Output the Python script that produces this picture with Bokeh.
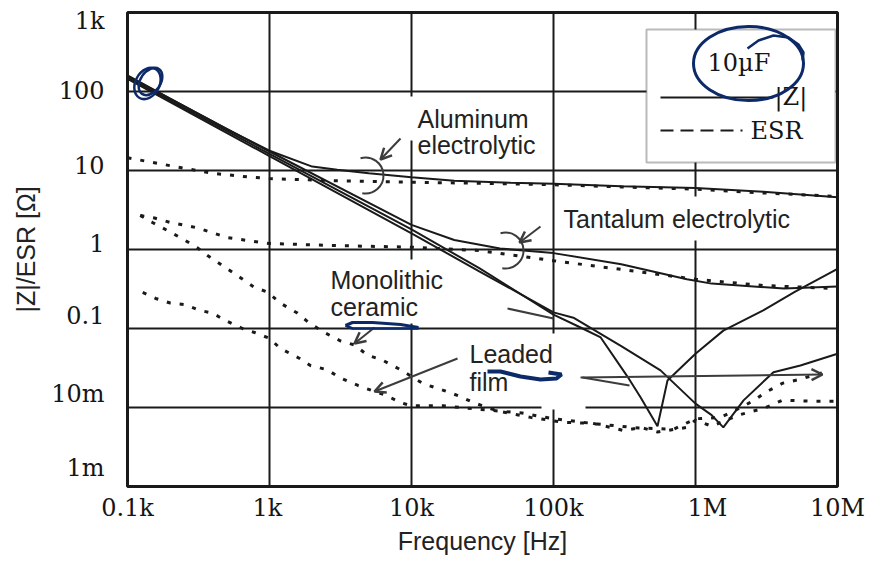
from bokeh.plotting import figure
from bokeh.models import (FixedTicker, Label, Arrow, OpenHead, BoxAnnotation,
                          CustomJSTickFormatter)
from bokeh.embed import file_html
from bokeh.resources import INLINE

# ---------------- data (10 uF capacitors) ----------------
AL_Z_F = [100, 200, 500, 1e3, 2e3, 3e3, 5e3, 1e4, 2e4, 5e4, 1e5, 3e5, 1e6, 3e6, 1e7]
AL_Z = [160, 81, 33.5, 17.8, 11.2, 10.2, 9.2, 8.2, 7.4, 7.0, 6.8, 6.3, 6.0, 5.4, 4.6]
AL_ESR_F = [100, 200, 400, 700, 1e3, 3e3, 1e4, 3e4, 1e5, 3e5, 1e6, 3e6, 1e7]
AL_ESR = [14.5, 11.5, 9.2, 8.3, 7.9, 7.4, 7.1, 6.9, 6.6, 6.2, 5.8, 5.2, 4.7]

TA_Z_F = [100, 1e3, 1e4, 2e4, 4.2e4, 1e5, 3e5, 8.7e5, 1.3e6, 4.2e6, 1e7]
TA_Z = [157, 17.4, 2.05, 1.32, 1.03, 0.9, 0.65, 0.42, 0.37, 0.32, 0.34]
TA_ESR_F = [123, 155, 200, 265, 320, 410, 500, 700, 1e3, 3e3, 1e4, 3e4, 1e5,
            3e5, 1e6, 3e6, 1e7]
TA_ESR = [2.7, 2.5, 2.2, 2.0, 1.85, 1.6, 1.42, 1.3, 1.19, 1.12, 1.07, 0.97, 0.72,
          0.56, 0.42, 0.35, 0.32]

CE_Z_F = [100, 1e3, 1e4, 3e4, 1e5, 1.55e5, 2.15e5, 3.3e5, 4.1e5, 5.4e5, 6.35e5,
          1e6, 1.57e6, 3e6, 5e6, 1e7]
CE_Z = [150, 16.2, 1.8, 0.58, 0.15, 0.103, 0.077, 0.025, 0.0135, 0.0058, 0.022,
        0.048, 0.094, 0.17, 0.29, 0.57]
CE_ESR_F = [123, 150, 191, 256, 311, 366, 482, 624, 784, 968, 1.19e3, 1.57e3,
            1.91e3, 2.44e3, 3.14e3, 3.96e3, 4.9e3, 6.2e3, 8.4e3, 1.21e4, 1.68e4,
            2.2e4, 2.74e4, 4e4, 6.9e4, 1.17e5, 1.9e5, 3.13e5, 4.1e5, 5.4e5,
            8.7e5, 1e6, 1.3e6, 2e6, 3.1e6, 4.1e6, 6.7e6, 1e7]
CE_ESR = [2.7, 2.2, 1.74, 1.3, 1.05, 0.84, 0.6, 0.44, 0.33, 0.29, 0.21, 0.157,
          0.117, 0.089, 0.07, 0.062, 0.046, 0.04, 0.03, 0.02, 0.0165,
          0.0138, 0.0115, 0.0091, 0.0075, 0.0065, 0.0063, 0.0051, 0.0056, 0.0049,
          0.0056, 0.0069, 0.0058, 0.008, 0.0099, 0.0124, 0.012, 0.012]

FI_Z_F = [100, 1e3, 1e4, 3e4, 1e5, 1.38e5, 3e5, 5.67e5, 1e6, 1.3e6, 1.57e6,
          2.18e6, 3.54e6, 5.48e6, 1e7]
FI_Z = [145, 15.2, 1.6, 0.53, 0.16, 0.137, 0.06, 0.0295, 0.0112, 0.008, 0.0056,
        0.0123, 0.028, 0.034, 0.048]
FI_ESR_F = [128, 158, 200, 256, 320, 397, 482, 645, 784, 1e3, 1.19e3, 1.62e3,
            1.94e3, 2.56e3, 3.1e3, 4.2e3, 5.2e3, 6.6e3, 8.4e3, 1e4, 1.66e4, 3e4,
            6e4, 1e5, 2e5, 4e5, 7e5, 1e6, 1.5e6, 2.2e6, 2.7e6, 3.1e6, 4.1e6,
            5.5e6, 6.7e6, 8.4e6]
FI_ESR = [0.286, 0.24, 0.21, 0.2, 0.17, 0.157, 0.128, 0.1, 0.089, 0.075, 0.056,
          0.042, 0.034, 0.03, 0.024, 0.019, 0.0165, 0.0143, 0.0115, 0.0105,
          0.0105, 0.0095, 0.0085, 0.0072, 0.0062, 0.0055, 0.0053, 0.0072, 0.0075,
          0.0105, 0.013, 0.0155, 0.0203, 0.0228, 0.0255, 0.0285]

X_TICKS = [1e2, 1e3, 1e4, 1e5, 1e6, 1e7]
X_TICK_LABELS = ["0.1k", "1k", "10k", "100k", "1M", "10M"]
Y_TICKS = [1e-3, 1e-2, 1e-1, 1, 10, 100, 1000]
Y_TICK_LABELS = ["1m", "10m", "0.1", "1", "10", "100", "1k"]
# the scanned original prints its tick labels slightly off their grid lines (px)
X_LABEL_SHIFT_PX = [0, -2, 0, 0, 12, 0]
Y_LABEL_SHIFT_PX = [19, 14, 13, 6, 5, 1, -8]


# ---------------- helpers: reference pixel -> data (for annotations only) ------
def fx(px):
    return 10 ** (2 + (px - 127) / 142)


def fy(py):
    return 10 ** (3 - (py - 12) / 79)


INK = "#1a1a1a"
GRAY = "#3c3c3c"
NAVY = "#0c2a68"
SANS = "Liberation Sans"
SERIF = "DejaVu Serif"
LIFT = 8   # baseline correction for Label text

p = figure(width=889, height=562, x_axis_type="log", y_axis_type="log",
           x_range=(100, 1e7), y_range=(1e-3, 1e3),
           output_backend="svg", toolbar_location=None,
           min_border_left=127, min_border_right=52,
           min_border_top=12, min_border_bottom=76,
           background_fill_color="white", border_fill_color="white")

p.outline_line_color = INK
p.outline_line_width = 3

NEAREST = """
let best = 0, d = Infinity;
for (let i = 0; i < pos.length; i++) {
  const di = Math.abs(Math.log10(pos[i]) - Math.log10(tick));
  if (di < d) { d = di; best = i; }
}
return lab[best];
"""

# tick labels sit where the original prints them; grid stays on the decades
x_label_pos = [v * 10 ** (s / 142) for v, s in zip(X_TICKS, X_LABEL_SHIFT_PX)]
p.xaxis.ticker = FixedTicker(ticks=x_label_pos, minor_ticks=[])
p.xaxis.formatter = CustomJSTickFormatter(
    args=dict(pos=x_label_pos, lab=X_TICK_LABELS), code=NEAREST)
y_label_pos = [v * 10 ** (s / 79) for v, s in zip(Y_TICKS, Y_LABEL_SHIFT_PX)]
p.yaxis.ticker = FixedTicker(ticks=y_label_pos, minor_ticks=[])
p.yaxis.formatter = CustomJSTickFormatter(
    args=dict(pos=y_label_pos, lab=Y_TICK_LABELS), code=NEAREST)
p.xgrid.ticker = FixedTicker(ticks=X_TICKS, minor_ticks=[])
p.ygrid.ticker = FixedTicker(ticks=Y_TICKS, minor_ticks=[])

for ax in (p.xaxis[0], p.yaxis[0]):
    ax.axis_line_color = None
    ax.major_tick_line_color = None
    ax.minor_tick_line_color = None
    ax.major_tick_out = 0
    ax.major_tick_in = 0
    ax.axis_label_text_font = SANS
    ax.axis_label_text_font_size = "25px"
    ax.axis_label_text_font_style = "normal"
    ax.axis_label_text_color = "#222222"
    ax.major_label_text_font = SERIF
    ax.major_label_text_font_size = "24px"
    ax.major_label_text_color = "#151515"

p.xaxis.axis_label = "Frequency [Hz]"
p.xaxis.major_label_standoff = 7
p.xaxis.axis_label_standoff = 2
p.yaxis.axis_label = "|Z|/ESR [Ω]"
p.yaxis.major_label_standoff = 23
p.yaxis.axis_label_standoff = 8

p.xgrid.grid_line_color = INK
p.ygrid.grid_line_color = INK
p.xgrid.grid_line_width = 2
p.ygrid.grid_line_width = 2

# ---------------- curves ----------------
for f, z in ((AL_Z_F, AL_Z), (TA_Z_F, TA_Z), (CE_Z_F, CE_Z), (FI_Z_F, FI_Z)):
    p.line(f, z, line_color=INK, line_width=2)
for f, r in ((AL_ESR_F, AL_ESR), (TA_ESR_F, TA_ESR), (CE_ESR_F, CE_ESR),
             (FI_ESR_F, FI_ESR)):
    p.line(f, r, line_color=INK, line_width=3, line_dash="4 9")

# brackets joining |Z| and ESR
p.arc(x=[fx(365), fx(505)], y=[fy(175), fy(250)], radius=18,
      radius_units="screen", start_angle=-1.75, end_angle=1.85,
      direction="anticlock", line_color=GRAY, line_width=2)

# white gap to the right of the "Leaded film" label
p.add_layout(BoxAnnotation(left=fx(541), right=fx(585), top=fy(333),
                           bottom=fy(409), fill_color="white", fill_alpha=1,
                           line_color=None))


# ---------------- callout labels ----------------
def callout(px, py, text, pad=4):
    p.add_layout(Label(x=fx(px), y=fy(py), x_offset=-pad, y_offset=LIFT,
                       text=text, text_align="left",
                       text_baseline="alphabetic", text_font=SANS,
                       text_font_size="25px", text_color="#222222",
                       background_fill_color="white", background_fill_alpha=1,
                       padding=pad))


callout(417, 126, "Aluminum", pad=8)
callout(417, 152, "electrolytic", pad=2)
callout(563, 226, "Tantalum electrolytic", pad=8)
callout(330, 287, "Monolithic", pad=6)
callout(330, 314, "ceramic", pad=3)
callout(469, 361, "Leaded", pad=3)
callout(469, 389, "film", pad=2)


# ---------------- pointer arrows ----------------
def pointer(x0, y0, x1, y1, head=True):
    p.add_layout(Arrow(x_start=fx(x0), y_start=fy(y0), x_end=fx(x1), y_end=fy(y1),
                       line_color=GRAY, line_width=2, start=None,
                       end=OpenHead(size=11, line_color=GRAY, line_width=2.5)
                       if head else None))


pointer(400, 138, 380, 159)
pointer(540, 226, 519, 242)
pointer(374, 327, 354, 343)
pointer(457, 358, 374, 391)
pointer(580, 377, 822, 374)
pointer(582, 377, 629, 385, head=False)
pointer(507, 308, 553, 318, head=False)

# ---------------- legend box ----------------
p.add_layout(BoxAnnotation(left=fx(646), right=fx(835), top=fy(29), bottom=fy(162),
                           fill_color="white", fill_alpha=1, line_color=INK,
                           line_width=2))


def legend_text(px, py, text):
    p.add_layout(Label(x=fx(px), y=fy(py), y_offset=LIFT, text=text,
                       text_font=SERIF, text_font_size="24px",
                       text_color="#151515", text_baseline="alphabetic"))


legend_text(707, 70, "10µF")
p.add_layout(Arrow(x_start=fx(660), y_start=fy(97), x_end=fx(773), y_end=fy(97),
                   start=None, end=None, line_color=INK, line_width=2))
legend_text(774, 104, "|Z|")
p.add_layout(Arrow(x_start=fx(660), y_start=fy(130), x_end=fx(742), y_end=fy(130),
                   start=None, end=None, line_color=INK, line_width=2,
                   line_dash="13 7"))
legend_text(750, 138, "ESR")

# ---------------- hand-drawn blue marks ----------------
scr = []
scr.append(p.ellipse(x=[fx(147), fx(150)], y=[fy(83), fy(81)], width=[24, 20],
                     height=[33, 30], width_units="screen", height_units="screen",
                     angle=[-0.5, -0.6], fill_alpha=0, line_color=NAVY,
                     line_width=2.5))
scr.append(p.ellipse(x=[fx(748)], y=[fy(63)], width=110, height=74,
                     width_units="screen", height_units="screen", angle=0.0,
                     fill_alpha=0, line_color=NAVY, line_width=3))
scr.append(p.line([fx(q) for q in (747, 758, 773, 788, 798, 803, 802)],
                  [fy(q) for q in (48, 40, 35, 37, 44, 52, 60)],
                  line_color=NAVY, line_width=2.5))
scr.append(p.line([fx(q) for q in (345, 352, 372, 400, 418)],
                  [fy(q) for q in (325, 322, 322, 324, 327)],
                  line_color=NAVY, line_width=3))
scr.append(p.line([fx(q) for q in (345, 352, 380, 418)],
                  [fy(q) for q in (325, 328, 328, 328)],
                  line_color=NAVY, line_width=2.5))
scr.append(p.line([fx(q) for q in (487, 500, 520, 540, 556, 561, 548)],
                  [fy(q) for q in (371, 371, 376, 379, 378, 374, 372)],
                  line_color=NAVY, line_width=4))
for r in scr:
    r.level = "overlay"

open("out.html", "w").write(file_html(p, INLINE))
